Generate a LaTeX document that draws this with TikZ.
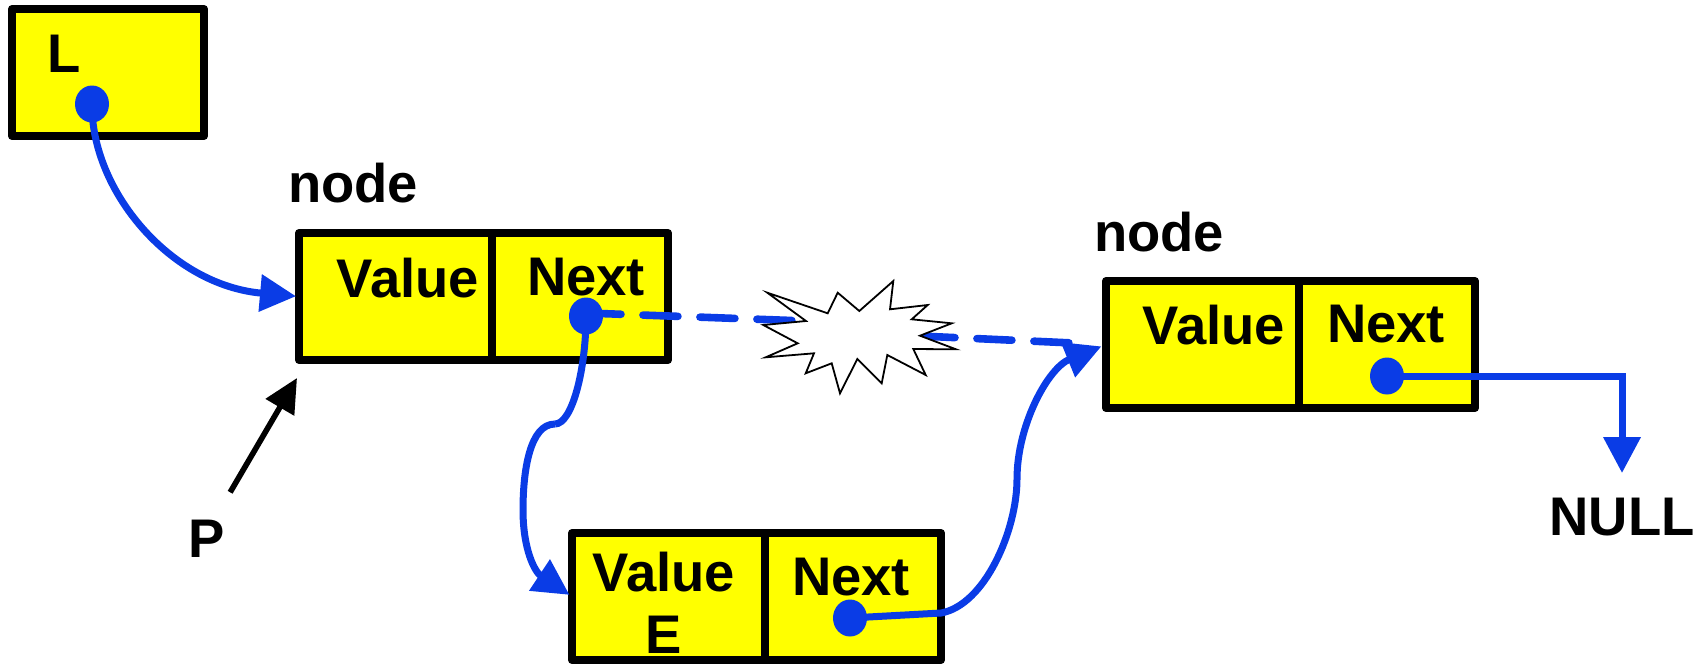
\documentclass[tikz,border=0pt]{standalone}
\usepackage{fontspec}
\setmainfont{Liberation Sans}
\usepackage{xcolor}
\usetikzlibrary{
  positioning,
  arrows.meta,
  shapes.geometric,
  calc,
}
\definecolor{cCell}{HTML}{FFFF00}
\definecolor{cLink}{HTML}{0A3CE6}

\begin{document}
\begin{tikzpicture}[
  x=0.5pt, y=-0.5pt,
  font=\fontsize{27.2}{31}\selectfont\bfseries,
  every node/.style={align=center, inner sep=0pt, outer sep=0pt},
  %
  cellbox/.style={
    draw=black, fill=cCell, line width=4pt, line join=round,
    minimum height=63.5pt,
  },
  valuecell/.style={cellbox, minimum width=96.5pt},
  nextcell/.style={cellbox, minimum width=88pt},
  headbox/.style={cellbox, minimum width=96pt},
  dot/.style={ellipse, fill=cLink, minimum width=17pt, minimum height=18.5pt},
  lnk/.style={-{Triangle[length=18pt, width=18pt]}, line width=3.5pt, draw=cLink},
  lnkdash/.style={line width=3.8pt, draw=cLink, line cap=round,
                  dash pattern=on 17.5pt off 11pt},
  burst/.style={draw=black, fill=white, line width=0.9pt, line join=miter},
]
\useasboundingbox (0,0) rectangle (1706,665);

% ────────────── HEAD POINTER ───────────────────────────────────────────────
\node[headbox, anchor=north west] (head) at (12,9) {};

% ────────────── LIST CELLS ─────────────────────────────────────────────────
\node[valuecell, anchor=north west] (valA) at (299,233) {};
\node[nextcell, right=0pt of valA]  (nextA) {};
\node[valuecell, anchor=north west] (valC) at (1106,281) {};
\node[nextcell, right=0pt of valC]  (nextC) {};
\node[valuecell, anchor=north west] (valB) at (572,533) {};
\node[nextcell, right=0pt of valB]  (nextB) {};

% ────────────── TEXTS ──────────────────────────────────────────────────────
\node (txtL)     at (64,54)    {L};
\node (txtNodeA) at (353,183)  {node};
\node (txtNodeC) at (1159,232) {node};
\node (txtValA)  at (408,278)  {Value};
\node (txtNextA) at (586,277)  {Next};
\node (txtValC)  at (1214,325) {Value};
\node (txtNextC) at (1386,324) {Next};
\node (txtValB)  at (664,603)  {Value\\E};
\node (txtNextB) at (851,577)  {Next};
\node (nullnode) at (1622,517) {NULL};
\node (ptrP)     at (207,539)  {P};

% ────────────── DOTS — placed first, the links start from them ─────────────
\coordinate (dotL) at (92,104);
\coordinate (dotA) at (586,316);
\coordinate (dotB) at (850,618);
\coordinate (dotC) at (1387,376);

% ────────────── OLD LINK (broken) ──────────────────────────────────────────
\coordinate (breakL) at (806,321);
\coordinate (breakR) at (920,336);
\draw[lnkdash] ($(dotA)+(0,-3)$) -- (breakL);
\draw[lnkdash, shorten >=8pt] (breakR) -- (valC.west);
\draw[burst] (767.3,292.7) -- (827.7,313.3) -- (837.7,292.7) -- (859.3,311) -- (893.3,281)
  -- (890,309.3) -- (927.7,305) -- (911.7,319.3) -- (951.7,323.3) -- (920,335.7)
  -- (956,349.3) -- (913.3,349) -- (925.7,375) -- (887.3,355) -- (881.7,383.3)
  -- (857.3,359) -- (840,393.3) -- (831.7,363.3) -- (805.7,373.3) -- (814,353.3)
  -- (765.7,357.3) -- (797.7,343.3) -- (763.3,325) -- (806,321) -- cycle;

% ────────────── LINKS ──────────────────────────────────────────────────────
\draw[lnk, shorten >=1.5pt] (dotL) .. controls (91,190) and (170,285) .. (valA.west);
% new link in two bends, the kink sits halfway down
\coordinate (kink) at (555,424);
\draw[line width=3.5pt, draw=cLink] (dotA) .. controls (586,370) and (572,424) .. (kink);
\draw[lnk, shorten >=1.5pt] (kink) .. controls (530,424) and (523,470) .. (523,510)
  .. controls (523,550) and (535,572) .. (valB.west);
\draw[lnk, shorten >=2.5pt] (dotB) -- (941,613) .. controls (985,605) and (1017,530) .. (1017,479)
  .. controls (1017,425) and (1048,368) .. (valC.west);
\draw[lnk, shorten >=12.5pt] (dotC) -| (nullnode.north);
\draw[-{Triangle[length=17pt, width=16pt]}, line width=2.8pt, draw=black]
  ($(ptrP.north east)+(5,-28)$) -- ($(valA.south west)+(-2,18)$);

% ────────────── DOTS ───────────────────────────────────────────────────────
\node[dot] (markL) at (dotL) {};
\node[dot] (markA) at (dotA) {};
\node[dot] (markB) at (dotB) {};
\node[dot] (markC) at (dotC) {};

\end{tikzpicture}
\end{document}
